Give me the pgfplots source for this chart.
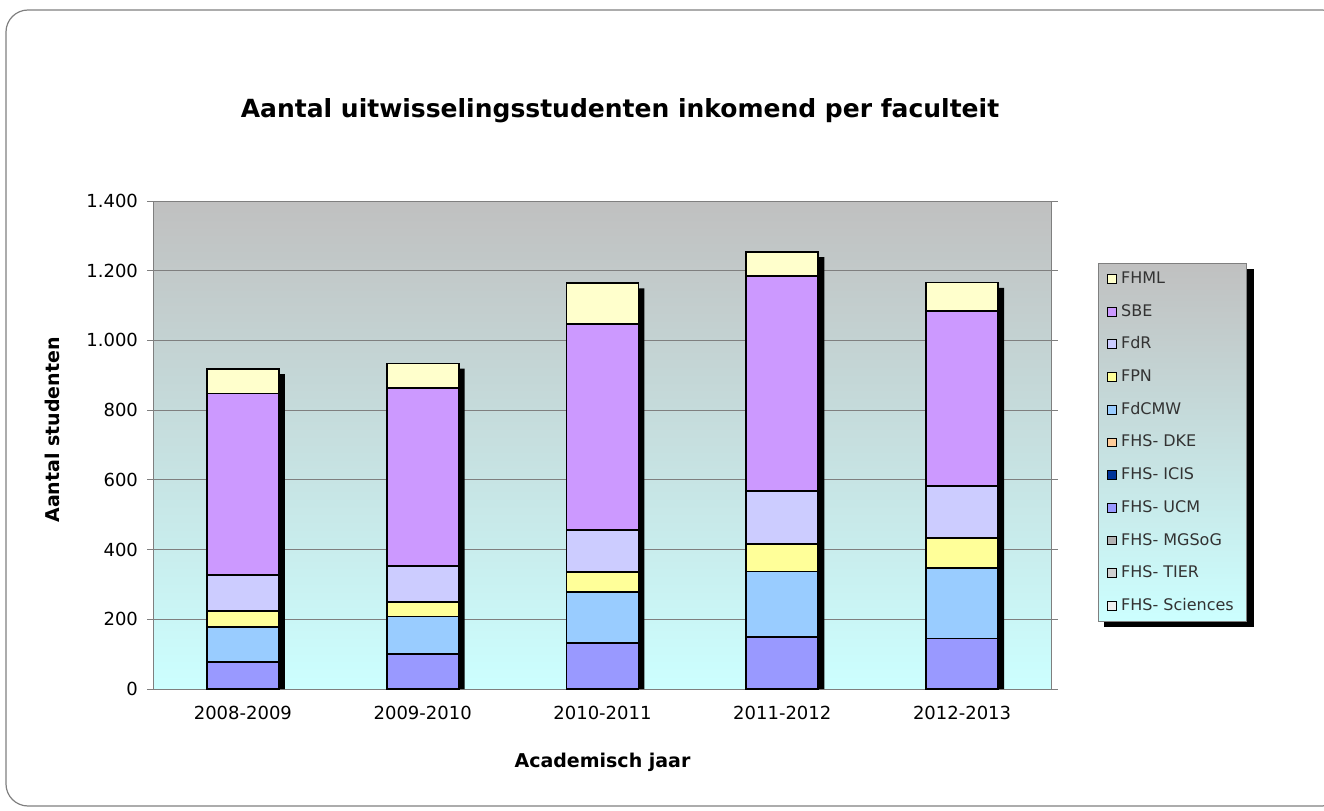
\documentclass[border=0pt]{standalone}
\usepackage{fontspec}
\setmainfont{DejaVu Sans}
\usepackage{pgfplots}
\usepackage{pgfplotstable}
\pgfplotsset{compat=1.18}

\definecolor{bgtop}{HTML}{C0C0C0}
\definecolor{bgbot}{HTML}{CCFFFF}
\definecolor{gridc}{HTML}{7F7F7F}
\definecolor{cFHML}{HTML}{FFFFCC}
\definecolor{cSBE}{HTML}{CC99FF}
\definecolor{cFdR}{HTML}{CCCCFF}
\definecolor{cFPN}{HTML}{FFFF99}
\definecolor{cFdCMW}{HTML}{99CCFF}
\definecolor{cDKE}{HTML}{FFCC99}
\definecolor{cICIS}{HTML}{003399}
\definecolor{cUCM}{HTML}{9999FF}
\definecolor{cMGSoG}{HTML}{B2B2B2}
\definecolor{cTIER}{HTML}{D0D0D0}
\definecolor{cSci}{HTML}{EEEEEE}

% academic year index, students per faculty (zero faculties left out of the bars)
\pgfplotstableread{
x UCM FdCMW FPN FdR SBE FHML shadow
0 78  101 45 103 521 70  903
1 100 108 41 105 509 71  919
2 131 148 56 121 591 117 1149
3 150 187 78 153 617 69  1239
4 145 203 86 149 502 81  1151
}\incoming

\pgfplotsset{
  legsq/.style={legend image code/.code={
    \draw[##1, draw=black, line width=0.5pt] (0pt,-2.2pt) rectangle (4.4pt,2.2pt);}},
  frame/.style={
    at={(76.5pt,60.5pt)}, anchor=south west,
    scale only axis, width=449.5pt, height=244pt,
    xmin=-0.5, xmax=4.5, ymin=0, ymax=1400,
  }
}

\begin{document}
\begin{tikzpicture}
\useasboundingbox (0,0) rectangle (662pt,405pt);
\draw[gray, line width=0.6pt, rounded corners=11pt] (3pt,2pt) rectangle (672pt,400pt);
% legend shadow
\fill[black] (552pt,91.5pt) rectangle (627pt,270.5pt);

\begin{axis}[
  frame,
  axis background/.style={top color=bgtop, bottom color=bgbot},
  axis line style={gridc, line width=0.5pt},
  ytick={0,200,...,1400},
  xtick={0,...,4},
  xticklabels={2008-2009,2009-2010,2010-2011,2011-2012,2012-2013},
  major x tick style={draw=none},
  extra x ticks={-0.5,0.5,1.5,2.5,3.5,4.5},
  extra x tick labels={},
  extra x tick style={grid=none, tick style={gridc, line width=0.5pt}},
  tick align=outside,
  major tick length=3pt,
  y tick style={gridc, line width=0.5pt},
  ymajorgrids,
  grid style={gridc, line width=0.5pt},
  tick label style={font=\fontsize{9}{11}\selectfont, text=black},
  /pgf/number format/assume math mode=true,
  /pgf/number format/1000 sep={.},
  yticklabel style={xshift=-1pt},
  xticklabel style={yshift=-2pt},
  every axis title shift=0pt,
  title={Aantal uitwisselingsstudenten inkomend per faculteit},
  title style={at={(0.5195,1.186)}, anchor=center, font=\bfseries\fontsize{12.5}{14}\selectfont},
  xlabel={Academisch jaar},
  xlabel style={at={(0.5,-0.1496)}, anchor=center, font=\bfseries\fontsize{9.5}{11}\selectfont},
  ylabel={Aantal studenten},
  ylabel style={at={(-0.112,0.531)}, anchor=center, font=\bfseries\fontsize{9.5}{11}\selectfont},
  legend cell align=left,
  legend style={
    at={(1.051,0.873)}, anchor=north west,
    draw=gridc, line width=0.5pt,
    top color=bgtop, bottom color=bgbot,
    font=\fontsize{8}{9}\selectfont, text=black!80,
    inner xsep=4.5pt, inner ysep=3pt,
    row sep=6.85pt,
    nodes={text height=6pt, text depth=1.5pt, inner xsep=2pt, inner ysep=1pt},
  },
]
\addplot[ybar, bar width=36pt, bar shift=3pt, fill=black, draw=none, forget plot]
  table[x=x, y=shadow]{\incoming};
\addlegendimage{legsq, fill=cFHML}\addlegendentry{FHML}
\addlegendimage{legsq, fill=cSBE}\addlegendentry{SBE}
\addlegendimage{legsq, fill=cFdR}\addlegendentry{FdR}
\addlegendimage{legsq, fill=cFPN}\addlegendentry{FPN}
\addlegendimage{legsq, fill=cFdCMW}\addlegendentry{FdCMW}
\addlegendimage{legsq, fill=cDKE}\addlegendentry{FHS- DKE}
\addlegendimage{legsq, fill=cICIS}\addlegendentry{FHS- ICIS}
\addlegendimage{legsq, fill=cUCM}\addlegendentry{FHS- UCM}
\addlegendimage{legsq, fill=cMGSoG}\addlegendentry{FHS- MGSoG}
\addlegendimage{legsq, fill=cTIER}\addlegendentry{FHS- TIER}
\addlegendimage{legsq, fill=cSci}\addlegendentry{FHS- Sciences}
\end{axis}

\begin{axis}[
  frame,
  hide axis,
  ybar stacked,
  bar width=36pt,
  every axis plot/.append style={draw=black, line width=0.9pt},
]
\addplot[fill=cUCM] table[x=x, y=UCM]{\incoming};
\addplot[fill=cFdCMW] table[x=x, y=FdCMW]{\incoming};
\addplot[fill=cFPN] table[x=x, y=FPN]{\incoming};
\addplot[fill=cFdR] table[x=x, y=FdR]{\incoming};
\addplot[fill=cSBE] table[x=x, y=SBE]{\incoming};
\addplot[fill=cFHML] table[x=x, y=FHML]{\incoming};
\end{axis}
\end{tikzpicture}
\end{document}
